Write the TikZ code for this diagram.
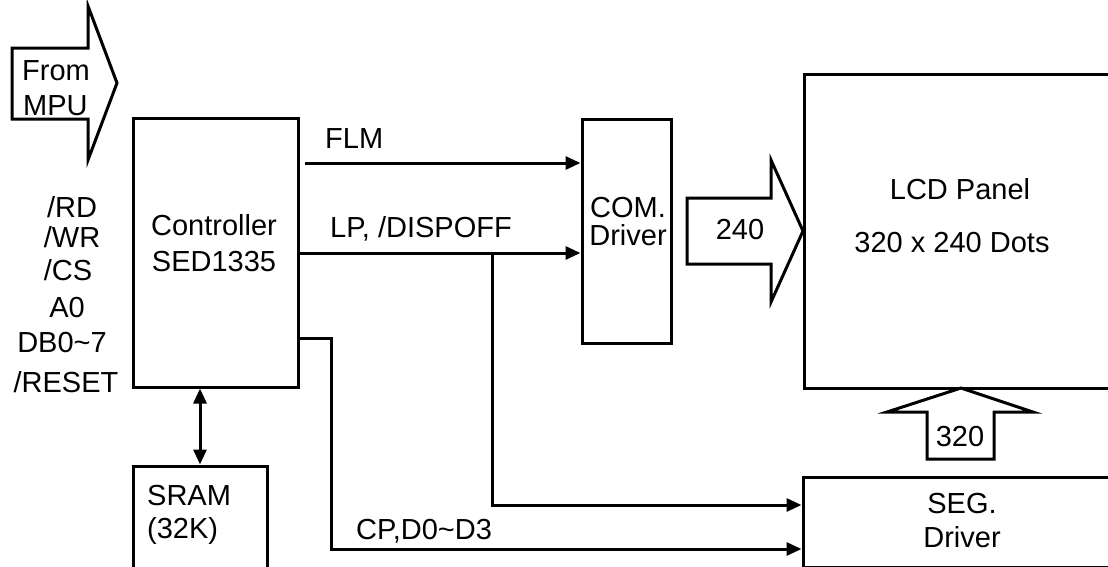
\documentclass[tikz,border=0pt]{standalone}
\usepackage{fontspec}
\setmainfont{Liberation Sans}
\usetikzlibrary{arrows.meta}
\begin{document}
\begin{tikzpicture}[x=1pt,y=-1pt,
  box/.style={draw,line width=3pt,inner sep=0pt},
  sig/.style={line width=3pt,-{Triangle[length=15pt,width=13pt]}},
  dsig/.style={line width=3pt,{Triangle[length=15pt,width=13pt]}-{Triangle[length=15pt,width=13pt]}},
  fat/.style={draw,line width=3pt,line join=miter,fill=white},
  lbl/.style={anchor=base,inner sep=0pt,font=\fontsize{29}{34}\selectfont},
  lbll/.style={lbl,anchor=base west}]
\useasboundingbox (0,0) rectangle (1108,566);
\clip (0,0) rectangle (1108,566);
\fill[white] (0,0) rectangle (1108,566);

% boxes
\node[box,minimum width=165pt,minimum height=269pt] (ctrl) at (215.5,252.5) {};
\node[box,minimum width=89pt,minimum height=224pt] (com) at (626.5,231) {};
\node[box,minimum width=316pt,minimum height=314pt] (lcd) at (962,231) {};
\node[box,minimum width=317pt,minimum height=90pt] (seg) at (961.5,522) {};
\node[box,minimum width=134pt,minimum height=114pt] (sram) at (200,523) {};

% box texts
\node[lbl] (t1) at (214,235) {Controller};
\node[lbl] (t2) at (214,271) {SED1335};
\node[lbl] (t3) at (628,217) {COM.};
\node[lbl] (t4) at (628,245) {Driver};
\node[lbl] (t5) at (960,199) {LCD Panel};
\node[lbl] (t6) at (952,252) {320 x 240 Dots};
\node[lbl] (t7) at (962,513) {SEG.};
\node[lbl] (t8) at (962,547) {Driver};
\node[lbll,align=left,font=\fontsize{29}{33}\selectfont] (t9) at (147,538) {SRAM\\(32K)};

% fat arrows
\draw[fat] (12,48) -- (88,48) -- (88,6) -- (117,83) -- (88,160) -- (88,119) -- (12,119) -- cycle;
\node[lbll] (mpu1) at (22,80) {From};
\node[lbll] (mpu2) at (23,115) {MPU};
\draw[fat] (687,198) -- (771,198) -- (771,160) -- (803,231) -- (771,302) -- (771,264) -- (687,264) -- cycle;
\node[lbl] (n240) at (740,239) {240};
\draw[fat] (927,459) -- (927,412) -- (887,412) -- (961,388) -- (1033,412) -- (994,412) -- (994,459) -- cycle;
\node[lbl] (n320) at (960,446) {320};

% left labels
\node[lbl] (s1) at (72,217) {/RD};
\node[lbl] (s2) at (72,247) {/WR};
\node[lbl] (s3) at (68,280) {/CS};
\node[lbl] (s4) at (67,317) {A0};
\node[lbl] (s5) at (62,352) {DB0\textasciitilde 7};
\node[lbl] (s6) at (66,392) {/RESET};

% signals
\coordinate (flm) at (0,163);
\coordinate (lp) at (0,253);
\coordinate (cp) at (0,338);
\draw[sig] ([xshift=5pt]ctrl.east |- flm) -- (com.west |- flm);
\node[lbll] (lflm) at (325,148) {FLM};
\draw[sig] (ctrl.east |- lp) -- (com.west |- lp);
\node[lbll] (llp) at (330,237) {LP, /DISPOFF};
\coordinate (jn) at (492,253);
\draw[sig] (jn) -- (492,505) -- (seg.west |- 0,505);
\draw[sig] (ctrl.east |- cp) -- (331,338) -- (331,549) -- (seg.west |- 0,549);
\node[lbll] (lcp) at (356,539) {CP,D0\textasciitilde D3};
\draw[dsig] (sram.north |- ctrl.south) -- (sram.north);
\end{tikzpicture}
\end{document}
